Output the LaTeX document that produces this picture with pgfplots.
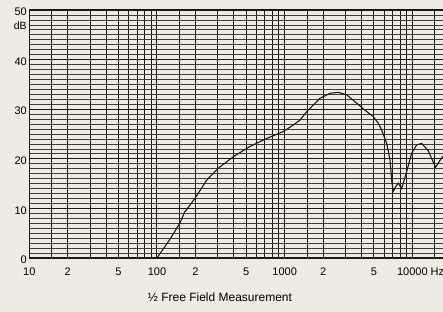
\documentclass[border=0pt]{standalone}
\usepackage{pgfplots}
\pgfplotsset{compat=1.18}
\usepackage{fontspec}
\setmainfont{Liberation Sans}
\definecolor{bgcol}{RGB}{238,235,226}
\definecolor{ink}{RGB}{25,25,25}
\definecolor{minorink}{RGB}{60,60,60}
\begin{document}
\begin{tikzpicture}
\path[use as bounding box] (-29.3pt,-54pt) rectangle (413.7pt,258pt);
\fill[bgcol] (-29.3pt,-54pt) rectangle (413.7pt,258pt);
\begin{axis}[
  scale only axis,
  width=421.5pt, height=248pt,
  xmode=log, xmin=10, xmax=20000,
  ymin=0, ymax=50,
  axis line style={ink, line width=1.6pt},
  xtick={10,15,20,30,40,50,60,70,80,90,100,150,200,300,400,500,600,700,800,900,1000,1500,2000,3000,4000,5000,6000,7000,8000,9000,10000,15000,20000},
  xticklabels={10,,2,,,5,,,,,100,,2,,,5,,,,,1000,,2,,,5,,,,,{10000\rlap{\ Hz}},,},
  ytick={0,10,20,30,40,50},
  yticklabels={0,10,20,30,40,50},
  minor ytick={1,2,3,4,5,6,7,8,9,11,12,13,14,15,16,17,18,19,21,22,23,24,25,26,27,28,29,31,32,33,34,35,36,37,38,39,41,42,43,44,45,46,47,48,49},
  major tick length=0pt, minor tick length=0pt,
  xmajorgrids, ymajorgrids, yminorgrids,
  major grid style={ink, line width=1.0pt},
  minor grid style={minorink, line width=0.7pt},
  /pgf/number format/assume math mode=true,
  tick label style={font=\fontsize{11}{13}\selectfont},
  xticklabel style={yshift=-6pt},
  yticklabel style={yshift=-2pt, xshift=1pt},
  xlabel={½ Free Field Measurement},
  xlabel style={at={(axis description cs:0.4524,0)}, anchor=center, yshift=-39pt, font=\fontsize{12}{14}\selectfont},
  clip=true,
]
\addplot[ink, line width=1.1pt] coordinates {
(100,0) (125,3.6) (151,7.0) (165,9.3) (171,9.8) (198,12.0) (245,15.7) (302,18.1) (395,20.4) (535,22.5) (723,24.1) (975,25.5) (1167,26.8) (1319,27.8) (1486,29.5) (1700,31.0) (1888,32.2) (2264,33.2) (2630,33.4) (3062,32.9) (3667,31.2) (4257,29.8) (4943,28.5) (5400,27.2) (5750,25.8) (6290,23.1) (6680,19.8) (6900,15.5) (7080,13.4) (7500,14.6) (7760,15.1) (8240,14.0) (9020,17.4) (9860,21.1) (10800,22.8) (11830,23.1) (13330,21.6) (14300,19.8) (15200,18.3) (16000,19.2) (16970,20.2) (18000,21.0)
};
\end{axis}
\node[anchor=east, font=\fontsize{10.5}{12}\selectfont, inner sep=0pt] at (-2.5pt,232pt) {dB};
\end{tikzpicture}
\end{document}
